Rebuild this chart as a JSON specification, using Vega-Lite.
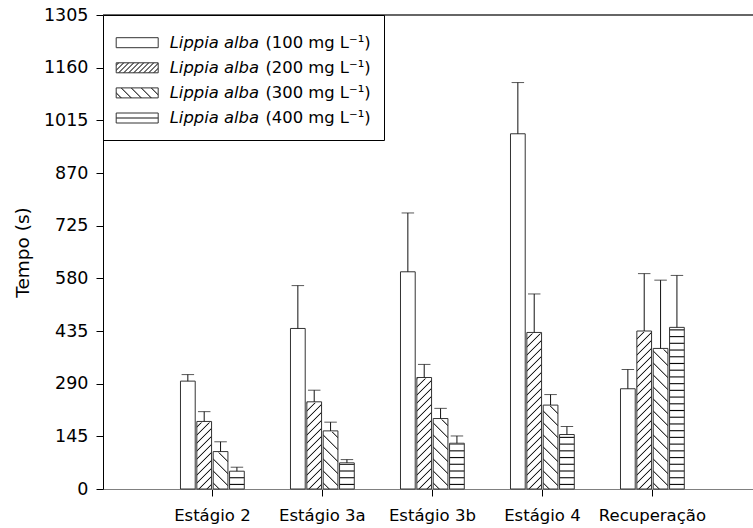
{
  "$schema": "https://vega.github.io/schema/vega-lite/v6.json",
  "autosize": {"type": "none"},
  "padding": {"left": 103, "top": 15, "right": 0, "bottom": 39},
  "width": 650,
  "height": 474,
  "background": "white",
  "config": {"view": {"stroke": null}, "font": "DejaVu Sans", "axis": {"titleFontWeight": "normal"}},
  "data": {"values": [
    {"stage": "Estágio 2", "dose": "100", "conc": "(100 mg L⁻¹)", "mean": 297, "upper": 315},
    {"stage": "Estágio 2", "dose": "200", "conc": "(200 mg L⁻¹)", "mean": 186, "upper": 213},
    {"stage": "Estágio 2", "dose": "300", "conc": "(300 mg L⁻¹)", "mean": 103, "upper": 130},
    {"stage": "Estágio 2", "dose": "400", "conc": "(400 mg L⁻¹)", "mean": 49, "upper": 60},
    {"stage": "Estágio 3a", "dose": "100", "conc": "(100 mg L⁻¹)", "mean": 442, "upper": 560},
    {"stage": "Estágio 3a", "dose": "200", "conc": "(200 mg L⁻¹)", "mean": 240, "upper": 272},
    {"stage": "Estágio 3a", "dose": "300", "conc": "(300 mg L⁻¹)", "mean": 160, "upper": 184},
    {"stage": "Estágio 3a", "dose": "400", "conc": "(400 mg L⁻¹)", "mean": 72, "upper": 81},
    {"stage": "Estágio 3b", "dose": "100", "conc": "(100 mg L⁻¹)", "mean": 598, "upper": 760},
    {"stage": "Estágio 3b", "dose": "200", "conc": "(200 mg L⁻¹)", "mean": 307, "upper": 343},
    {"stage": "Estágio 3b", "dose": "300", "conc": "(300 mg L⁻¹)", "mean": 194, "upper": 222},
    {"stage": "Estágio 3b", "dose": "400", "conc": "(400 mg L⁻¹)", "mean": 126, "upper": 146},
    {"stage": "Estágio 4", "dose": "100", "conc": "(100 mg L⁻¹)", "mean": 978, "upper": 1119},
    {"stage": "Estágio 4", "dose": "200", "conc": "(200 mg L⁻¹)", "mean": 431, "upper": 537},
    {"stage": "Estágio 4", "dose": "300", "conc": "(300 mg L⁻¹)", "mean": 231, "upper": 260},
    {"stage": "Estágio 4", "dose": "400", "conc": "(400 mg L⁻¹)", "mean": 150, "upper": 172},
    {"stage": "Recuperação", "dose": "100", "conc": "(100 mg L⁻¹)", "mean": 276, "upper": 329},
    {"stage": "Recuperação", "dose": "200", "conc": "(200 mg L⁻¹)", "mean": 435, "upper": 593},
    {"stage": "Recuperação", "dose": "300", "conc": "(300 mg L⁻¹)", "mean": 387, "upper": 575},
    {"stage": "Recuperação", "dose": "400", "conc": "(400 mg L⁻¹)", "mean": 445, "upper": 588}
  ]},
  "encoding": {
    "x": {"field": "stage", "type": "nominal",
      "sort": ["Estágio 2", "Estágio 3a", "Estágio 3b", "Estágio 4", "Recuperação"],
      "scale": {"paddingInner": 0.42, "paddingOuter": 0.6645, "align": 0.53},
      "axis": {"title": null, "labelAngle": 0, "labelFontSize": 16.5, "labelColor": "#000", "labelPadding": 11,
        "domainColor": "#808080", "domainWidth": 1, "tickColor": "#000", "tickSize": 7, "grid": false}},
    "xOffset": {"field": "dose", "type": "nominal",
      "scale": {"domain": ["100", "200", "300", "400"], "paddingInner": 0.1, "paddingOuter": 0}}
  },
  "layer": [
    {
      "mark": {"type": "rule", "color": "#666", "strokeWidth": 1},
      "encoding": {"x": null, "xOffset": null, "y": {"datum": 1305, "type": "quantitative"}}
    },
    {
      "mark": {"type": "bar", "strokeWidth": 0},
      "encoding": {
        "y": {"field": "mean", "type": "quantitative",
          "scale": {"domain": [0, 1305], "nice": false, "zero": true},
          "axis": {"values": [0, 145, 290, 435, 580, 725, 870, 1015, 1160, 1305], "format": "d",
            "title": "Tempo (s)", "titleFontSize": 18.5, "titleFontWeight": "normal", "titleColor": "#000",
            "titleX": -81, "titleBaseline": "middle",
            "labelFontSize": 17.5, "labelColor": "#000", "labelPadding": 8,
            "domainColor": "#000", "tickColor": "#000", "tickSize": 7, "grid": false}},
        "fill": {"field": "dose", "type": "nominal",
          "scale": {"domain": ["100", "200", "300", "400"], "range": [
            "#ffffff",
            {"expr": "{gradient: 'linear', x1: 0, y1: 0, x2: 1.172, y2: 0.279, stops: [{offset: 0.025, color: '#fff'}, {offset: 0.048, color: '#111'}, {offset: 0.071, color: '#fff'}, {offset: 0.121, color: '#fff'}, {offset: 0.144, color: '#111'}, {offset: 0.167, color: '#fff'}, {offset: 0.217, color: '#fff'}, {offset: 0.24, color: '#111'}, {offset: 0.263, color: '#fff'}, {offset: 0.314, color: '#fff'}, {offset: 0.337, color: '#111'}, {offset: 0.36, color: '#fff'}, {offset: 0.41, color: '#fff'}, {offset: 0.433, color: '#111'}, {offset: 0.456, color: '#fff'}, {offset: 0.506, color: '#fff'}, {offset: 0.529, color: '#111'}, {offset: 0.552, color: '#fff'}, {offset: 0.602, color: '#fff'}, {offset: 0.625, color: '#111'}, {offset: 0.648, color: '#fff'}, {offset: 0.698, color: '#fff'}, {offset: 0.721, color: '#111'}, {offset: 0.744, color: '#fff'}, {offset: 0.794, color: '#fff'}, {offset: 0.817, color: '#111'}, {offset: 0.84, color: '#fff'}, {offset: 0.89, color: '#fff'}, {offset: 0.913, color: '#111'}, {offset: 0.936, color: '#fff'}]}"},
            {"expr": "{gradient: 'linear', x1: 0, y1: 1, x2: 1.172, y2: 0.721, stops: [{offset: 0.073, color: '#fff'}, {offset: 0.096, color: '#111'}, {offset: 0.119, color: '#fff'}, {offset: 0.265, color: '#fff'}, {offset: 0.288, color: '#111'}, {offset: 0.311, color: '#fff'}, {offset: 0.458, color: '#fff'}, {offset: 0.481, color: '#111'}, {offset: 0.504, color: '#fff'}, {offset: 0.65, color: '#fff'}, {offset: 0.673, color: '#111'}, {offset: 0.696, color: '#fff'}, {offset: 0.842, color: '#fff'}, {offset: 0.865, color: '#111'}, {offset: 0.888, color: '#fff'}]}"},
            {"expr": "{gradient: 'linear', x1: 0, y1: 0, x2: 0, y2: 1, stops: [{offset: 0.4, color: '#fff'}, {offset: 0.5, color: '#111'}, {offset: 0.6, color: '#fff'}]}"}
          ]},
          "legend": {"orient": "none", "legendX": 0, "legendY": 0, "title": " ", "titleFontSize": 1, "titlePadding": 5.5,
            "padding": 13, "rowPadding": 8.1, "symbolType": "M-1.6,-1H6.8V1H-1.6Z", "symbolSize": 100,
            "symbolStrokeColor": "#333", "symbolStrokeWidth": 1, "labelOffset": 37.3,
            "labelExpr": "'Lippia alba'", "labelFontStyle": "italic", "labelFontSize": 16.4, "labelColor": "#000",
            "strokeColor": null, "fillColor": null}
        }
      }
    },
    {
      "transform": [{"filter": "datum.dose !== '100'"}],
      "mark": {"type": "bar", "strokeWidth": 0},
      "encoding": {
        "y": {"datum": 600, "type": "quantitative"},
        "y2": {"datum": 0},
        "fill": {
          "condition": [
            {"test": "datum.dose === '200'", "value": {"gradient": "linear", "x1": 0, "y1": 0, "x2": 0.074, "y2": 1.0964, "stops": [
              {"offset": 0.0117, "color": "#fff"}, {"offset": 0.0167, "color": "#111"}, {"offset": 0.0217, "color": "#fff"},
              {"offset": 0.045, "color": "#fff"}, {"offset": 0.05, "color": "#111"}, {"offset": 0.055, "color": "#fff"},
              {"offset": 0.0783, "color": "#fff"}, {"offset": 0.0833, "color": "#111"}, {"offset": 0.0883, "color": "#fff"},
              {"offset": 0.1117, "color": "#fff"}, {"offset": 0.1167, "color": "#111"}, {"offset": 0.1217, "color": "#fff"},
              {"offset": 0.145, "color": "#fff"}, {"offset": 0.15, "color": "#111"}, {"offset": 0.155, "color": "#fff"},
              {"offset": 0.1783, "color": "#fff"}, {"offset": 0.1833, "color": "#111"}, {"offset": 0.1883, "color": "#fff"},
              {"offset": 0.2117, "color": "#fff"}, {"offset": 0.2167, "color": "#111"}, {"offset": 0.2217, "color": "#fff"},
              {"offset": 0.245, "color": "#fff"}, {"offset": 0.25, "color": "#111"}, {"offset": 0.255, "color": "#fff"},
              {"offset": 0.2783, "color": "#fff"}, {"offset": 0.2833, "color": "#111"}, {"offset": 0.2883, "color": "#fff"},
              {"offset": 0.3117, "color": "#fff"}, {"offset": 0.3167, "color": "#111"}, {"offset": 0.3217, "color": "#fff"},
              {"offset": 0.345, "color": "#fff"}, {"offset": 0.35, "color": "#111"}, {"offset": 0.355, "color": "#fff"},
              {"offset": 0.3783, "color": "#fff"}, {"offset": 0.3833, "color": "#111"}, {"offset": 0.3883, "color": "#fff"},
              {"offset": 0.4117, "color": "#fff"}, {"offset": 0.4167, "color": "#111"}, {"offset": 0.4217, "color": "#fff"},
              {"offset": 0.445, "color": "#fff"}, {"offset": 0.45, "color": "#111"}, {"offset": 0.455, "color": "#fff"},
              {"offset": 0.4783, "color": "#fff"}, {"offset": 0.4833, "color": "#111"}, {"offset": 0.4883, "color": "#fff"},
              {"offset": 0.5117, "color": "#fff"}, {"offset": 0.5167, "color": "#111"}, {"offset": 0.5217, "color": "#fff"},
              {"offset": 0.545, "color": "#fff"}, {"offset": 0.55, "color": "#111"}, {"offset": 0.555, "color": "#fff"},
              {"offset": 0.5783, "color": "#fff"}, {"offset": 0.5833, "color": "#111"}, {"offset": 0.5883, "color": "#fff"},
              {"offset": 0.6117, "color": "#fff"}, {"offset": 0.6167, "color": "#111"}, {"offset": 0.6217, "color": "#fff"},
              {"offset": 0.645, "color": "#fff"}, {"offset": 0.65, "color": "#111"}, {"offset": 0.655, "color": "#fff"},
              {"offset": 0.6783, "color": "#fff"}, {"offset": 0.6833, "color": "#111"}, {"offset": 0.6883, "color": "#fff"},
              {"offset": 0.7117, "color": "#fff"}, {"offset": 0.7167, "color": "#111"}, {"offset": 0.7217, "color": "#fff"},
              {"offset": 0.745, "color": "#fff"}, {"offset": 0.75, "color": "#111"}, {"offset": 0.755, "color": "#fff"},
              {"offset": 0.7783, "color": "#fff"}, {"offset": 0.7833, "color": "#111"}, {"offset": 0.7883, "color": "#fff"},
              {"offset": 0.8117, "color": "#fff"}, {"offset": 0.8167, "color": "#111"}, {"offset": 0.8217, "color": "#fff"},
              {"offset": 0.845, "color": "#fff"}, {"offset": 0.85, "color": "#111"}, {"offset": 0.855, "color": "#fff"},
              {"offset": 0.8783, "color": "#fff"}, {"offset": 0.8833, "color": "#111"}, {"offset": 0.8883, "color": "#fff"},
              {"offset": 0.9117, "color": "#fff"}, {"offset": 0.9167, "color": "#111"}, {"offset": 0.9217, "color": "#fff"},
              {"offset": 0.945, "color": "#fff"}, {"offset": 0.95, "color": "#111"}, {"offset": 0.955, "color": "#fff"},
              {"offset": 0.9783, "color": "#fff"}, {"offset": 0.9833, "color": "#111"}, {"offset": 0.9883, "color": "#fff"}]}},
            {"test": "datum.dose === '300'", "value": {"gradient": "linear", "x1": 0, "y1": 1, "x2": 0.074, "y2": -0.0964, "stops": [
              {"offset": 0.02, "color": "#fff"}, {"offset": 0.025, "color": "#111"}, {"offset": 0.03, "color": "#fff"},
              {"offset": 0.07, "color": "#fff"}, {"offset": 0.075, "color": "#111"}, {"offset": 0.08, "color": "#fff"},
              {"offset": 0.12, "color": "#fff"}, {"offset": 0.125, "color": "#111"}, {"offset": 0.13, "color": "#fff"},
              {"offset": 0.17, "color": "#fff"}, {"offset": 0.175, "color": "#111"}, {"offset": 0.18, "color": "#fff"},
              {"offset": 0.22, "color": "#fff"}, {"offset": 0.225, "color": "#111"}, {"offset": 0.23, "color": "#fff"},
              {"offset": 0.27, "color": "#fff"}, {"offset": 0.275, "color": "#111"}, {"offset": 0.28, "color": "#fff"},
              {"offset": 0.32, "color": "#fff"}, {"offset": 0.325, "color": "#111"}, {"offset": 0.33, "color": "#fff"},
              {"offset": 0.37, "color": "#fff"}, {"offset": 0.375, "color": "#111"}, {"offset": 0.38, "color": "#fff"},
              {"offset": 0.42, "color": "#fff"}, {"offset": 0.425, "color": "#111"}, {"offset": 0.43, "color": "#fff"},
              {"offset": 0.47, "color": "#fff"}, {"offset": 0.475, "color": "#111"}, {"offset": 0.48, "color": "#fff"},
              {"offset": 0.52, "color": "#fff"}, {"offset": 0.525, "color": "#111"}, {"offset": 0.53, "color": "#fff"},
              {"offset": 0.57, "color": "#fff"}, {"offset": 0.575, "color": "#111"}, {"offset": 0.58, "color": "#fff"},
              {"offset": 0.62, "color": "#fff"}, {"offset": 0.625, "color": "#111"}, {"offset": 0.63, "color": "#fff"},
              {"offset": 0.67, "color": "#fff"}, {"offset": 0.675, "color": "#111"}, {"offset": 0.68, "color": "#fff"},
              {"offset": 0.72, "color": "#fff"}, {"offset": 0.725, "color": "#111"}, {"offset": 0.73, "color": "#fff"},
              {"offset": 0.77, "color": "#fff"}, {"offset": 0.775, "color": "#111"}, {"offset": 0.78, "color": "#fff"},
              {"offset": 0.82, "color": "#fff"}, {"offset": 0.825, "color": "#111"}, {"offset": 0.83, "color": "#fff"},
              {"offset": 0.87, "color": "#fff"}, {"offset": 0.875, "color": "#111"}, {"offset": 0.88, "color": "#fff"},
              {"offset": 0.92, "color": "#fff"}, {"offset": 0.925, "color": "#111"}, {"offset": 0.93, "color": "#fff"},
              {"offset": 0.97, "color": "#fff"}, {"offset": 0.975, "color": "#111"}, {"offset": 0.98, "color": "#fff"}]}}
          ],
          "value": {"gradient": "linear", "x1": 0, "y1": 1, "x2": 0, "y2": -0.1013, "stops": [
            {"offset": 0.0145, "color": "#fff"}, {"offset": 0.019, "color": "#000"}, {"offset": 0.0235, "color": "#fff"},
            {"offset": 0.0425, "color": "#fff"}, {"offset": 0.047, "color": "#000"}, {"offset": 0.0515, "color": "#fff"},
            {"offset": 0.0705, "color": "#fff"}, {"offset": 0.075, "color": "#000"}, {"offset": 0.0795, "color": "#fff"},
            {"offset": 0.0985, "color": "#fff"}, {"offset": 0.103, "color": "#000"}, {"offset": 0.1075, "color": "#fff"},
            {"offset": 0.1265, "color": "#fff"}, {"offset": 0.131, "color": "#000"}, {"offset": 0.1355, "color": "#fff"},
            {"offset": 0.1545, "color": "#fff"}, {"offset": 0.159, "color": "#000"}, {"offset": 0.1635, "color": "#fff"},
            {"offset": 0.1825, "color": "#fff"}, {"offset": 0.187, "color": "#000"}, {"offset": 0.1915, "color": "#fff"},
            {"offset": 0.2105, "color": "#fff"}, {"offset": 0.215, "color": "#000"}, {"offset": 0.2195, "color": "#fff"},
            {"offset": 0.2385, "color": "#fff"}, {"offset": 0.243, "color": "#000"}, {"offset": 0.2475, "color": "#fff"},
            {"offset": 0.2665, "color": "#fff"}, {"offset": 0.271, "color": "#000"}, {"offset": 0.2755, "color": "#fff"},
            {"offset": 0.2945, "color": "#fff"}, {"offset": 0.299, "color": "#000"}, {"offset": 0.3035, "color": "#fff"},
            {"offset": 0.3225, "color": "#fff"}, {"offset": 0.327, "color": "#000"}, {"offset": 0.3315, "color": "#fff"},
            {"offset": 0.3505, "color": "#fff"}, {"offset": 0.355, "color": "#000"}, {"offset": 0.3595, "color": "#fff"},
            {"offset": 0.3785, "color": "#fff"}, {"offset": 0.383, "color": "#000"}, {"offset": 0.3875, "color": "#fff"},
            {"offset": 0.4065, "color": "#fff"}, {"offset": 0.411, "color": "#000"}, {"offset": 0.4155, "color": "#fff"},
            {"offset": 0.4345, "color": "#fff"}, {"offset": 0.439, "color": "#000"}, {"offset": 0.4435, "color": "#fff"},
            {"offset": 0.4625, "color": "#fff"}, {"offset": 0.467, "color": "#000"}, {"offset": 0.4715, "color": "#fff"},
            {"offset": 0.4905, "color": "#fff"}, {"offset": 0.495, "color": "#000"}, {"offset": 0.4995, "color": "#fff"},
            {"offset": 0.5185, "color": "#fff"}, {"offset": 0.523, "color": "#000"}, {"offset": 0.5275, "color": "#fff"},
            {"offset": 0.5465, "color": "#fff"}, {"offset": 0.551, "color": "#000"}, {"offset": 0.5555, "color": "#fff"},
            {"offset": 0.5745, "color": "#fff"}, {"offset": 0.579, "color": "#000"}, {"offset": 0.5835, "color": "#fff"},
            {"offset": 0.6025, "color": "#fff"}, {"offset": 0.607, "color": "#000"}, {"offset": 0.6115, "color": "#fff"},
            {"offset": 0.6305, "color": "#fff"}, {"offset": 0.635, "color": "#000"}, {"offset": 0.6395, "color": "#fff"},
            {"offset": 0.6585, "color": "#fff"}, {"offset": 0.663, "color": "#000"}, {"offset": 0.6675, "color": "#fff"},
            {"offset": 0.6865, "color": "#fff"}, {"offset": 0.691, "color": "#000"}, {"offset": 0.6955, "color": "#fff"},
            {"offset": 0.7145, "color": "#fff"}, {"offset": 0.719, "color": "#000"}, {"offset": 0.7235, "color": "#fff"},
            {"offset": 0.7425, "color": "#fff"}, {"offset": 0.747, "color": "#000"}, {"offset": 0.7515, "color": "#fff"},
            {"offset": 0.7705, "color": "#fff"}, {"offset": 0.775, "color": "#000"}, {"offset": 0.7795, "color": "#fff"},
            {"offset": 0.7985, "color": "#fff"}, {"offset": 0.803, "color": "#000"}, {"offset": 0.8075, "color": "#fff"},
            {"offset": 0.8265, "color": "#fff"}, {"offset": 0.831, "color": "#000"}, {"offset": 0.8355, "color": "#fff"},
            {"offset": 0.8545, "color": "#fff"}, {"offset": 0.859, "color": "#000"}, {"offset": 0.8635, "color": "#fff"},
            {"offset": 0.8825, "color": "#fff"}, {"offset": 0.887, "color": "#000"}, {"offset": 0.8915, "color": "#fff"},
            {"offset": 0.9105, "color": "#fff"}, {"offset": 0.915, "color": "#000"}, {"offset": 0.9195, "color": "#fff"}]}
        }
      }
    },
    {
      "transform": [{"filter": "datum.dose !== '100'"}],
      "mark": {"type": "bar", "fill": "#ffffff", "stroke": "#ffffff", "strokeWidth": 2},
      "encoding": {
        "y": {"field": "mean", "type": "quantitative"},
        "y2": {"datum": 600}
      }
    },
    {
      "mark": {"type": "bar", "fillOpacity": 0, "strokeWidth": 1},
      "encoding": {
        "y": {"field": "mean", "type": "quantitative"},
        "stroke": {"field": "conc", "type": "nominal",
          "scale": {"domain": ["(100 mg L⁻¹)", "(200 mg L⁻¹)", "(300 mg L⁻¹)", "(400 mg L⁻¹)"], "range": ["#333", "#333", "#333", "#333"]},
          "legend": {"orient": "none", "legendX": 0, "legendY": 0, "title": " ", "titleFontSize": 1, "titlePadding": 5.5,
            "padding": 13, "rowPadding": 8.1, "symbolType": "M-1.6,-1H6.8V1H-1.6Z", "symbolSize": 100,
            "symbolOpacity": 0, "labelOffset": 133, "labelFontSize": 16.4, "labelColor": "#000", "labelLimit": 300,
            "strokeColor": "#000", "fillColor": null}}
      }
    },
    {
      "mark": {"type": "rule", "color": "#111", "strokeWidth": 1},
      "encoding": {
        "y": {"field": "mean", "type": "quantitative"},
        "y2": {"field": "upper"}
      }
    },
    {
      "mark": {"type": "tick", "color": "#111", "thickness": 1, "size": 12.5, "orient": "horizontal"},
      "encoding": {
        "y": {"field": "upper", "type": "quantitative"}
      }
    }
  ]
}
